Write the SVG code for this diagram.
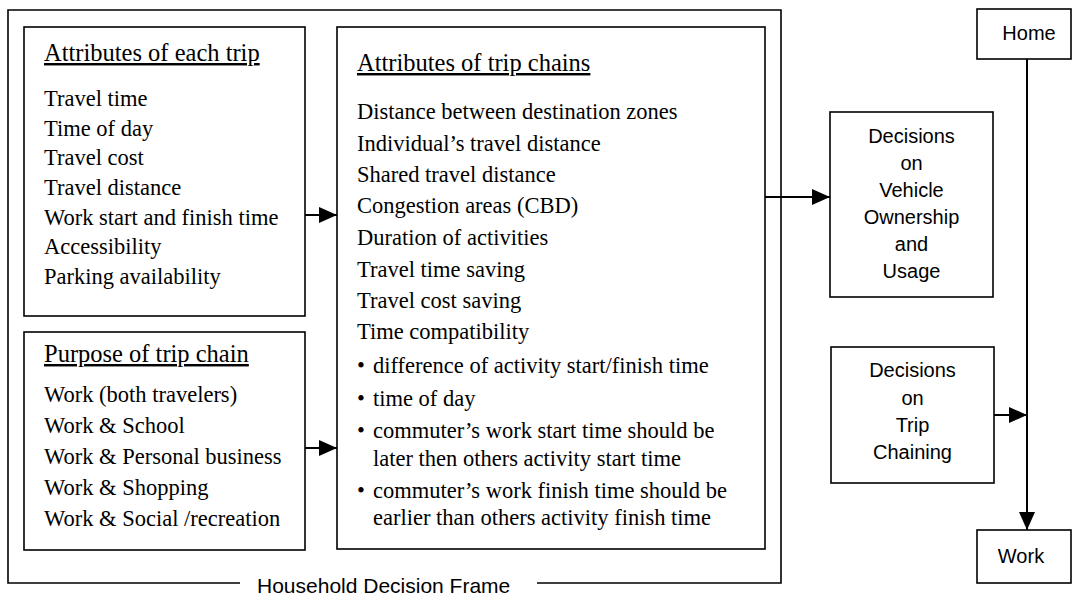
<svg xmlns="http://www.w3.org/2000/svg" width="1073" height="596" viewBox="0 0 1073 596">
<style>
.box{fill:#fff;stroke:#000;stroke-width:1.6}
.ln{fill:none;stroke:#000;stroke-width:1.6}
.ser{font-family:"Liberation Serif","Times New Roman",serif;font-size:22.5px;fill:#000}
.ttl{font-family:"Liberation Serif","Times New Roman",serif;font-size:24.5px;fill:#000;text-decoration:underline}
.sans{font-family:"Liberation Sans",Arial,sans-serif;font-size:20px;fill:#000;text-anchor:middle}
.con{fill:none;stroke:#000;stroke-width:2}
</style>
<defs>
<marker id="ah" markerUnits="userSpaceOnUse" markerWidth="18" markerHeight="16" refX="18" refY="8" orient="auto">
<path d="M0,0 L18,8 L0,16 z" fill="#000"/>
</marker>
</defs>
<rect width="1073" height="596" fill="#fff"/>
<g id="frame">
<path class="ln" d="M240,583 L8,583 L8,10 L781,10 L781,583 L537,583"/>
<text x="257" y="593" style="font-family:'Liberation Sans',Arial,sans-serif;font-size:21px">Household Decision Frame</text>
</g>
<g id="each-trip">
<rect class="box" x="24" y="27" width="281" height="289"/>
<text class="ttl" x="44" y="61">Attributes of each trip</text>
<text class="ser" x="44" y="106">Travel time</text>
<text class="ser" x="44" y="136">Time of day</text>
<text class="ser" x="44" y="165">Travel cost</text>
<text class="ser" x="44" y="195">Travel distance</text>
<text class="ser" x="44" y="225">Work start and finish time</text>
<text class="ser" x="44" y="254">Accessibility</text>
<text class="ser" x="44" y="284">Parking availability</text>
</g>
<g id="purpose">
<rect class="box" x="24" y="332" width="281" height="218"/>
<text class="ttl" x="44" y="362">Purpose of trip chain</text>
<text class="ser" x="44" y="402">Work (both travelers)</text>
<text class="ser" x="44" y="433">Work &amp; School</text>
<text class="ser" x="44" y="464">Work &amp; Personal business</text>
<text class="ser" x="44" y="495">Work &amp; Shopping</text>
<text class="ser" x="44" y="526">Work &amp; Social /recreation</text>
</g>
<g id="chains">
<rect class="box" x="337" y="27" width="428" height="522"/>
<text class="ttl" x="357" y="71">Attributes of trip chains</text>
<text class="ser" x="357" y="119">Distance between destination zones</text>
<text class="ser" x="357" y="151">Individual’s travel distance</text>
<text class="ser" x="357" y="182">Shared travel distance</text>
<text class="ser" x="357" y="213">Congestion areas (CBD)</text>
<text class="ser" x="357" y="245">Duration of activities</text>
<text class="ser" x="357" y="277">Travel time saving</text>
<text class="ser" x="357" y="308">Travel cost saving</text>
<text class="ser" x="357" y="339">Time compatibility</text>
<text class="ser" x="357" y="373">•</text>
<text class="ser" x="373" y="373">difference of activity start/finish time</text>
<text class="ser" x="357" y="406">•</text>
<text class="ser" x="373" y="406">time of day</text>
<text class="ser" x="357" y="438">•</text>
<text class="ser" x="373" y="438">commuter’s work start time should be</text>
<text class="ser" x="373" y="466">later then others activity start time</text>
<text class="ser" x="357" y="498">•</text>
<text class="ser" x="373" y="498">commuter’s work finish time should be</text>
<text class="ser" x="373" y="525">earlier than others activity finish time</text>
</g>
<g id="vehicle">
<rect class="box" x="830" y="112" width="163" height="185"/>
<text class="sans" x="911.5" y="143">Decisions</text>
<text class="sans" x="911.5" y="170">on</text>
<text class="sans" x="911.5" y="197">Vehicle</text>
<text class="sans" x="911.5" y="224">Ownership</text>
<text class="sans" x="911.5" y="251">and</text>
<text class="sans" x="911.5" y="278">Usage</text>
</g>
<g id="chaining">
<rect class="box" x="831" y="347" width="163" height="136"/>
<text class="sans" x="912.5" y="377">Decisions</text>
<text class="sans" x="912.5" y="405">on</text>
<text class="sans" x="912.5" y="432">Trip</text>
<text class="sans" x="912.5" y="459">Chaining</text>
</g>
<g id="home">
<rect class="box" x="977" y="9" width="94" height="50"/>
<text class="sans" x="1029" y="40">Home</text>
</g>
<g id="work">
<rect class="box" x="977" y="530" width="94" height="53"/>
<text class="sans" x="1021" y="563">Work</text>
</g>
<g id="connectors">
<line class="con" x1="305" y1="215" x2="337" y2="215" marker-end="url(#ah)"/>
<line class="con" x1="305" y1="448" x2="337" y2="448" marker-end="url(#ah)"/>
<line class="con" x1="765" y1="197" x2="830" y2="197" marker-end="url(#ah)"/>
<line class="con" x1="994" y1="415" x2="1027" y2="415" marker-end="url(#ah)"/>
<line class="con" x1="1027" y1="59" x2="1027" y2="530" marker-end="url(#ah)"/>
</g>
</svg>
